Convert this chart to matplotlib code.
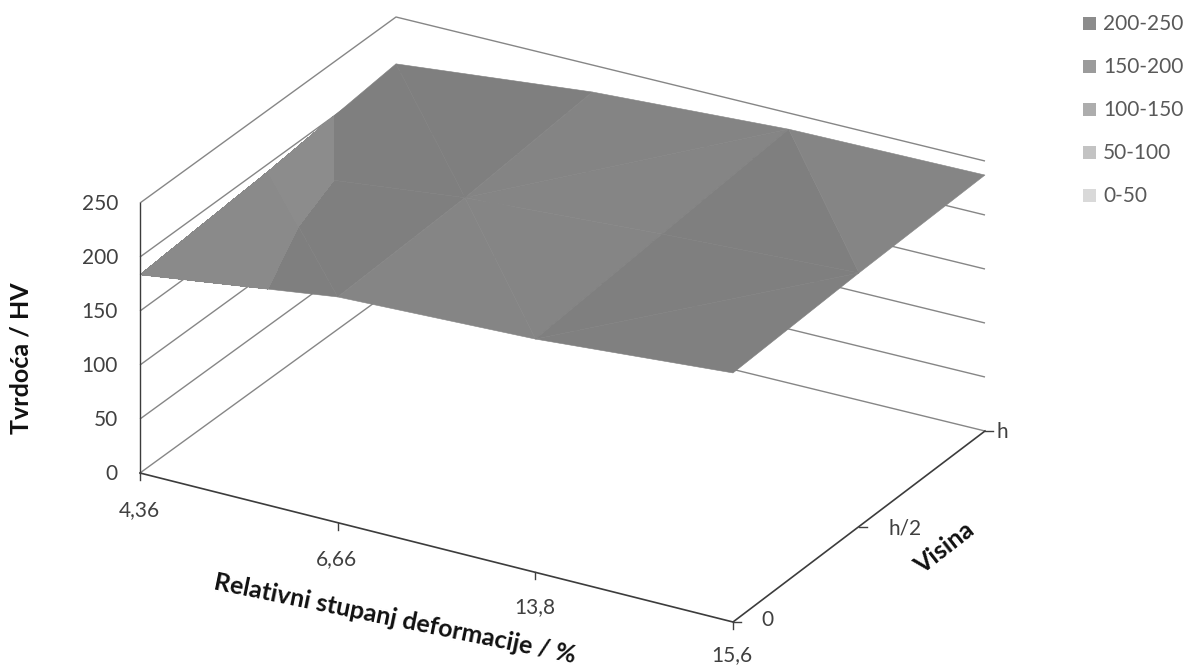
import matplotlib
matplotlib.use("Agg")
import matplotlib.pyplot as plt
from matplotlib.patches import Polygon, Rectangle
from matplotlib.tri import Triangulation
import numpy as np

plt.rcParams['font.family'] = ['Lato', 'DejaVu Sans']

# ---- data ----
x_labels = ["4,36", "6,66", "13,8", "15,6"]
depth_labels = ["0", "h/2", "h"]
z_ticks = [0, 50, 100, 150, 200, 250]
row_0 = [183.6, 209, 216, 230.6]
row_h2 = [193, 214, 225.6, 234.8]
row_h = [206.6, 225, 235, 237]
legend_labels = ["200-250", "150-200", "100-150", "50-100", "0-50"]
legend_colors = ["#8c8c8c", "#9b9b9b", "#adadad", "#c3c3c3", "#d9d9d9"]
x_title = "Relativni stupanj deformacije / %"
y_title = "Tvrdoća / HV"
depth_title = "Visina"

Z = np.array([row_0, row_h2, row_h])

# ---- the oblique view of the chart box, in figure pixels ----
FLOOR = {(0, 0): (140, 473), (1, 0): (733, 622), (1, 1): (985, 431), (0, 1): (396, 287)}
Z_SCALE = 270 / 250
nu, nv = len(x_labels) - 1, len(depth_labels) - 1


def project(u, v, z):
    s, t = np.asarray(u, float) / nu, np.asarray(v, float) / nv
    px = sum(FLOOR[k][0] * (s if k[0] else 1 - s) * (t if k[1] else 1 - t) for k in FLOOR)
    py = sum(FLOOR[k][1] * (s if k[0] else 1 - s) * (t if k[1] else 1 - t) for k in FLOOR)
    return px, py - np.asarray(z, float) * Z_SCALE


fig = plt.figure(figsize=(11.86, 6.66), dpi=100)
ax = fig.add_axes([0, 0, 1, 1])
ax.set_xlim(0, 1186)
ax.set_ylim(666, 0)
ax.axis("off")

WALL = "#868686"
AXIS = "#3c3c3c"
TICK = "#404040"

# walls
for z in z_ticks:
    xs, ys = project([0, 0, nu], [0, nv, nv], [z, z, z])
    ax.plot(xs, ys, color=WALL, lw=1.0, zorder=1, solid_capstyle="butt")

# surface: facets given as (node, node, node, grey, grey below the 200 level)
uu, vv = np.meshgrid(np.arange(nu + 1), np.arange(nv + 1))
sx, sy = project(uu, vv, Z)
sx, sy, sz = sx.ravel(), sy.ravel(), Z.ravel()


def n(i, j):
    return i + (nu + 1) * j


facets = [
    (n(0, 0), n(1, 0), n(0, 1), "#7f7f7f", "#8a8a8a"),
    (n(1, 0), n(1, 1), n(0, 1), "#7f7f7f", "#8c8c8c"),
    (n(0, 1), n(1, 1), n(0, 2), "#7f7f7f", "#8c8c8c"),
    (n(1, 1), n(1, 2), n(0, 2), "#7f7f7f", None),
    (n(1, 0), n(2, 0), n(1, 1), "#858585", None),
    (n(2, 0), n(2, 1), n(1, 1), "#858585", None),
    (n(1, 1), n(2, 1), n(2, 2), "#858585", None),
    (n(1, 1), n(2, 2), n(1, 2), "#848484", None),
    (n(2, 0), n(3, 1), n(2, 1), "#7f7f7f", None),
    (n(2, 0), n(3, 0), n(3, 1), "#808080", None),
    (n(2, 1), n(3, 1), n(2, 2), "#7f7f7f", None),
    (n(3, 1), n(3, 2), n(2, 2), "#858585", None),
]
for a, b, c, grey, low in facets:
    idx = [a, b, c]
    ax.add_patch(Polygon(np.c_[sx[idx], sy[idx]], closed=True, facecolor=grey,
                         edgecolor=grey, lw=0.4, zorder=2))
for a, b, c, grey, low in facets:
    if low is not None:
        tri = Triangulation(sx, sy, triangles=[[a, b, c]])
        ax.tricontourf(tri, sz, levels=[150, 200], colors=[low], zorder=3)

# axis lines
xs, ys = project([0, 0], [0, 0], [0, 250])
ax.plot(xs, ys, color=AXIS, lw=1.0, zorder=4)
xs, ys = project([0, nu, nu], [0, 0, nv], [0, 0, 0])
ax.plot(xs, ys, color=AXIS, lw=1.2, zorder=4, solid_joinstyle="miter")

TXT = "#404040"
FS = 15
TS = 18
# x ticks and labels
x_label_drop = [37, 36, 35, 33]
for i, lab in enumerate(x_labels):
    px, py = project(i, 0, 0)
    ax.plot([px, px], [py, py + 7], color=TICK, lw=1.0, zorder=4)
    ax.text(px - 1, py + x_label_drop[i], lab, ha="center", va="center", fontsize=FS, color=TXT)

# depth ticks and labels
offsets = [(34, -2), (46, 2), (17, 1)]
for j, lab in enumerate(depth_labels):
    px, py = project(nu, j, 0)
    ax.plot([px, px + 8], [py, py], color=TICK, lw=1.0, zorder=4)
    ax.text(px + offsets[j][0], py + offsets[j][1], lab, ha="center", va="center",
            fontsize=FS, color=TXT)

# z labels
for z in z_ticks:
    px, py = project(0, 0, z)
    ax.text(px - 22, py + 1, str(z), ha="right", va="center", fontsize=FS, color=TXT)

# titles
ax.text(21, 358, y_title, rotation=90, ha="center", va="center", fontsize=TS,
        fontweight="bold", color="#111111")
ax.text(395, 619, x_title, rotation=-11.6, rotation_mode="anchor", ha="center", va="center",
        fontsize=TS, fontweight="bold", color="#111111")
ax.text(944, 548, depth_title, rotation=38, rotation_mode="anchor", ha="center", va="center",
        fontsize=TS, fontweight="bold", color="#111111")

# legend
for k, (lab, col) in enumerate(zip(legend_labels, legend_colors)):
    yc = 23 + k * 43.2
    ax.add_patch(Rectangle((1083, yc - 6.5), 13, 13, facecolor=col, edgecolor="none"))
    ax.text(1103, yc + 0.5, lab, ha="left", va="center", fontsize=FS, color="#595959")

fig.savefig("out.png", dpi=100)
